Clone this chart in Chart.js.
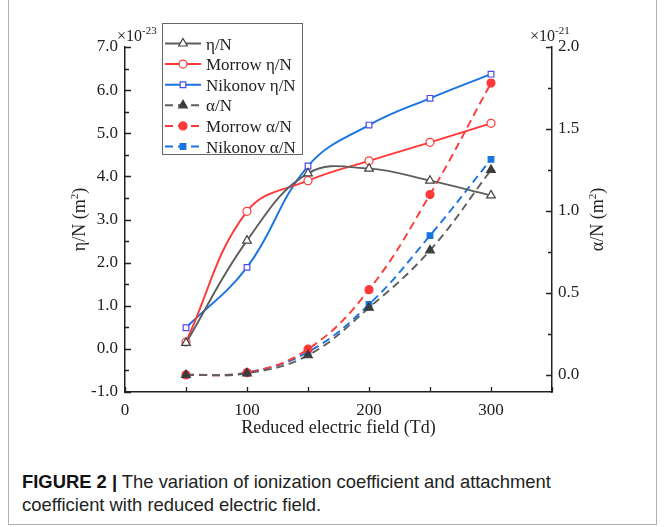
<!DOCTYPE html>
<html>
<head>
<meta charset="utf-8">
<script src="https://cdn.jsdelivr.net/npm/chart.js@4.4.0/dist/chart.umd.min.js"></script>
<style>
body { margin: 0; background: #fff; }
#wrap { position: relative; width: 664px; height: 527px; }
#frame { position: absolute; left: 8px; top: 0; width: 647px; height: 524px; border: 1px solid #b0b0b0; border-top: none; }
#chart { position: absolute; left: 0; top: 0; }
#caption { position: absolute; left: 22px; top: 470px; white-space: nowrap;
  font-family: "Liberation Sans Narrow", "Liberation Sans", Arial, sans-serif; font-size: 18.4px; line-height: 23px; color: #222; }
#caption b { color: #111; }
</style>
</head>
<body>
<div id="wrap">
  <div id="frame"></div>
  <canvas id="chart" width="664" height="450"></canvas>
  <div id="caption"><b>FIGURE 2 |</b> The variation of ionization coefficient and attachment<br>coefficient with reduced electric field.</div>
</div>
<script>
// reduced electric field (Td)
const fields = [50, 100, 150, 200, 250, 300];

// attachment coefficient, x1e-23 m^2 (left axis)
const etaN        = [0.14, 2.51, 4.07, 4.18, 3.90, 3.56];
const morrowEta   = [0.16, 3.19, 3.90, 4.36, 4.79, 5.23];
const nikonovEta  = [0.49, 1.89, 4.24, 5.19, 5.81, 6.37];

// ionization coefficient, x1e-21 m^2 (right axis)
const alphaN       = [0.00, 0.010, 0.12, 0.41, 0.76, 1.25];
const morrowAlpha  = [0.00, 0.014, 0.157, 0.52, 1.10, 1.78];
const nikonovAlpha = [0.00, 0.015, 0.14, 0.43, 0.85, 1.315];

const xTicks = [0, 100, 200, 300];
const etaTicks = [-1, 0, 1, 2, 3, 4, 5, 6, 7];
const alphaTicks = [0, 0.5, 1, 1.5, 2];

const serif = '"Liberation Serif", "Times New Roman", serif';
const gray = '#5e5e5e', red = '#ff3838', blue = '#1874e0', sqBlue = '#4b4bf2';

const pts = arr => arr.map((v, i) => ({ x: fields[i], y: v }));

function series(label, data, axis, color, style, open, dashed, markColor) {
  let r = 4;
  if (style === 'triangle') r = 5;
  if (style === 'rect') r = open ? 4 : 4;
  return {
    label: label,
    data: pts(data),
    yAxisID: axis,
    borderColor: color,
    borderWidth: 1.9,
    borderDash: dashed ? [8, 5] : [],
    tension: 0.4,
    pointStyle: style,
    pointRadius: r,
    pointBorderWidth: 1.2,
    pointBorderColor: markColor,
    pointBackgroundColor: open ? '#fff' : markColor
  };
}

const datasets = [
  series('η/N', etaN, 'y', gray, 'triangle', true, false, '#444'),
  series('Morrow η/N', morrowEta, 'y', red, 'circle', true, false, red),
  series('Nikonov η/N', nikonovEta, 'y', blue, 'rect', true, false, sqBlue),
  series('α/N', alphaN, 'y1', gray, 'triangle', false, true, '#3c3c3c'),
  series('Morrow α/N', morrowAlpha, 'y1', red, 'circle', false, true, red),
  series('Nikonov α/N', nikonovAlpha, 'y1', blue, 'rect', false, true, blue)
];

// text with a raised part, e.g. m^2 or 10^-23
function drawParts(ctx, parts, x, y) {
  parts.forEach(p => {
    ctx.font = (p.sup ? '11px ' : p.size + 'px ') + serif;
    ctx.fillText(p.t, x, p.sup ? y - 7 : y);
    x += ctx.measureText(p.t).width;
  });
}
function partsWidth(ctx, parts) {
  let w = 0;
  parts.forEach(p => { ctx.font = (p.sup ? '11px ' : p.size + 'px ') + serif; w += ctx.measureText(p.t).width; });
  return w;
}

const decor = {
  id: 'decor',
  afterDraw(chart) {
    const ctx = chart.ctx;
    const sx = chart.scales.x, yl = chart.scales.y, yr = chart.scales.y1;
    const top = chart.chartArea.top, bottom = chart.chartArea.bottom;
    const left = chart.chartArea.left, right = chart.chartArea.right;
    ctx.save();
    ctx.strokeStyle = '#222';
    ctx.lineWidth = 1.3;
    ctx.beginPath();
    // inward ticks, bottom axis
    for (let v = 0; v <= 350; v += 50) {
      const px = Math.round(sx.getPixelForValue(v)) + 0.5;
      ctx.moveTo(px, bottom); ctx.lineTo(px, bottom - 5);
    }
    // left axis
    for (let v = -1; v <= 7; v += 0.5) {
      const py = Math.round(yl.getPixelForValue(v)) + 0.5;
      const len = Number.isInteger(v) ? 6 : 4;
      ctx.moveTo(left, py); ctx.lineTo(left + len, py);
    }
    // right axis
    for (let v = 0; v <= 2; v += 0.25) {
      const py = Math.round(yr.getPixelForValue(v)) + 0.5;
      const len = (v * 2) % 1 === 0 ? 6 : 4;
      ctx.moveTo(right, py); ctx.lineTo(right - len, py);
    }
    ctx.stroke();

    ctx.fillStyle = '#222';
    ctx.textBaseline = 'alphabetic';
    ctx.textAlign = 'left';
    // exponent labels
    drawParts(ctx, [{ t: '×10', size: 16 }, { t: '-23', sup: true }], 117, 41);
    drawParts(ctx, [{ t: '×10', size: 16 }, { t: '-21', sup: true }], 530, 41);

    // axis titles
    const cy = (top + bottom) / 2;
    const lt = [{ t: 'η/N (m', size: 18 }, { t: '2', sup: true }, { t: ')', size: 18 }];
    const rt = [{ t: 'α/N (m', size: 18 }, { t: '2', sup: true }, { t: ')', size: 18 }];
    ctx.save();
    ctx.translate(85, cy);
    ctx.rotate(-Math.PI / 2);
    drawParts(ctx, lt, -partsWidth(ctx, lt) / 2, 0);
    ctx.restore();
    ctx.save();
    ctx.translate(603, cy);
    ctx.rotate(-Math.PI / 2);
    drawParts(ctx, rt, -partsWidth(ctx, rt) / 2, 0);
    ctx.restore();
    ctx.font = '18px ' + serif;
    ctx.textAlign = 'center';
    ctx.fillText('Reduced electric field (Td)', (left + right) / 2, 433);

    // legend box
    const bx = 162, by = 23, bw = 140, bh = 131, rowH = 20.6;
    ctx.fillStyle = '#fff';
    ctx.fillRect(bx, by, bw, bh);
    ctx.strokeStyle = '#666';
    ctx.lineWidth = 1;
    ctx.strokeRect(bx + 0.5, by + 0.5, bw, bh);
    chart.data.datasets.forEach((ds, i) => {
      const ry = by + 20.5 + i * rowH;
      ctx.save();
      ctx.strokeStyle = ds.borderColor;
      ctx.lineWidth = 2;
      ctx.setLineDash(ds.borderDash);
      ctx.beginPath();
      ctx.moveTo(bx + 3, ry); ctx.lineTo(bx + 39, ry);
      ctx.stroke();
      ctx.setLineDash([]);
      ctx.strokeStyle = ds.pointBorderColor;
      ctx.fillStyle = ds.pointBackgroundColor;
      ctx.lineWidth = ds.pointBorderWidth;
      Chart.helpers.drawPoint(ctx, { pointStyle: ds.pointStyle, radius: ds.pointRadius, rotation: 0, borderWidth: ds.pointBorderWidth }, bx + 21, ry);
      ctx.restore();
      ctx.fillStyle = '#222';
      ctx.textAlign = 'left';
      ctx.font = '17px ' + serif;
      ctx.fillText(ds.label, bx + 44, ry + 6);
    });
    ctx.restore();
  }
};

const axisBase = {
  grid: { display: false, drawTicks: false },
  border: { display: true, color: '#222', width: 1.5 }
};

new Chart(document.getElementById('chart'), {
  type: 'line',
  data: { datasets: datasets },
  options: {
    responsive: false,
    animation: false,
    layout: { padding: { top: 47, left: 0, right: 0, bottom: 0 } },
    plugins: { legend: { display: false }, tooltip: { enabled: false } },
    scales: {
      x: {
        ...axisBase,
        type: 'linear', min: 0, max: 350,
        afterBuildTicks: s => { s.ticks = xTicks.map(v => ({ value: v })); },
        afterFit: s => { s.height = 58; },
        ticks: { color: '#222', padding: 8, maxRotation: 0, font: { family: serif, size: 17 } }
      },
      y: {
        ...axisBase,
        position: 'left', min: -1, max: 7,
        afterBuildTicks: s => { s.ticks = etaTicks.map(v => ({ value: v })); },
        afterFit: s => { s.width = 125; },
        ticks: { color: '#222', padding: 7, font: { family: serif, size: 17 }, callback: v => v.toFixed(1) }
      },
      y1: {
        ...axisBase,
        position: 'right', min: -0.104, max: 2.0,
        afterBuildTicks: s => { s.ticks = alphaTicks.map(v => ({ value: v })); },
        afterFit: s => { s.width = 112; },
        ticks: { color: '#222', padding: 6, font: { family: serif, size: 17 }, callback: v => v.toFixed(1) }
      }
    }
  },
  plugins: [decor]
});
</script>
</body>
</html>
